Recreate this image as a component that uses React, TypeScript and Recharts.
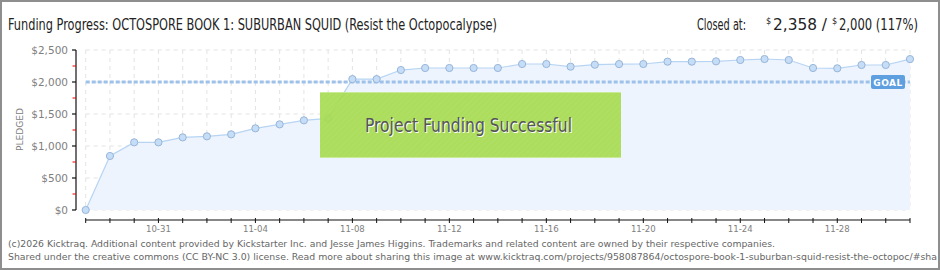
import React from 'react';
import { AreaChart, Area, XAxis, YAxis, CartesianGrid, ReferenceLine } from 'recharts';

const dates = [
  '10-28','10-29','10-30','10-31','11-01','11-02','11-03','11-04','11-05','11-06',
  '11-07','11-08','11-09','11-10','11-11','11-12','11-13','11-14','11-15','11-16',
  '11-17','11-18','11-19','11-20','11-21','11-22','11-23','11-24','11-25','11-26',
  '11-27','11-28','11-29','11-30','12-01',
];
const pledged = [
  0, 844, 1057, 1057, 1135, 1151, 1182, 1276, 1338, 1401,
  1432, 2045, 2045, 2187, 2219, 2219, 2219, 2219, 2281, 2281,
  2240, 2270, 2280, 2281, 2318, 2318, 2323, 2344, 2359, 2344,
  2219, 2214, 2266, 2266, 2358,
];
const tickLabels = ['10-31','11-04','11-08','11-12','11-16','11-20','11-24','11-28'];
const yTicks = [0, 500, 1000, 1500, 2000, 2500];
const goal = 2000;

const yLabel = (v: number) => '$' + v.toLocaleString('en-US');

const data = dates.map((d, i) => ({ i, date: d, pledged: pledged[i] }));
const xTicks = dates.map((_, i) => i);

const PLOT_LEFT = 85.7;
const PLOT_RIGHT = 910;
const PLOT_TOP = 50;
const PLOT_BOTTOM = 210;
const Y_AXIS_X = 76;
const X_AXIS_Y = 220;
const MINOR_STEP_PX = (PLOT_BOTTOM - PLOT_TOP) / 10;

const HEAD_FONT = "'DejaVu Sans Condensed', 'Liberation Sans Narrow', sans-serif";

const YTick = (props: any) => {
  const { y, payload } = props;
  const v = payload.value;
  return (
    <g>
      {v === 0 && (
        <line x1={Y_AXIS_X} x2={Y_AXIS_X} y1={PLOT_TOP} y2={PLOT_BOTTOM} stroke="#111" strokeWidth={1.2} />
      )}
      <line x1={Y_AXIS_X - 4} x2={Y_AXIS_X} y1={y} y2={y} stroke="#111" strokeWidth={1.2} />
      {v > 0 && (
        <line x1={Y_AXIS_X - 3.5} x2={Y_AXIS_X} y1={y + MINOR_STEP_PX} y2={y + MINOR_STEP_PX} stroke="#e00" strokeWidth={1} />
      )}
      <text x={68} y={y + 3.6} textAnchor="end" fontSize={10.5} fill="#808080" fontFamily="'DejaVu Sans', sans-serif">
        {yLabel(v)}
      </text>
    </g>
  );
};

const XTick = (props: any) => {
  const { x, payload } = props;
  const d = dates[payload.value];
  const show = tickLabels.includes(d);
  return (
    <g>
      {payload.value === 0 && (
        <line x1={PLOT_LEFT} x2={PLOT_RIGHT} y1={X_AXIS_Y} y2={X_AXIS_Y} stroke="#111" strokeWidth={1.2} />
      )}
      <line x1={x} x2={x} y1={X_AXIS_Y - 2} y2={X_AXIS_Y + 3} stroke="#111" strokeWidth={1} />
      {show && (
        <text x={x} y={X_AXIS_Y + 11.5} textAnchor="middle" fontSize={9.5} fill="#808080" fontFamily="'DejaVu Sans Condensed', 'DejaVu Sans', sans-serif">
          {d}
        </text>
      )}
    </g>
  );
};

const GoalLabel = (props: any) => {
  const vb = props.viewBox || {};
  const right = (vb.x || 0) + (vb.width || 0);
  const y = vb.y || 0;
  return (
    <g>
      <rect x={right - 39} y={y - 7} width={34} height={14} rx={2} fill="#5e9fe0" />
      <text x={right - 22} y={y + 3.6} textAnchor="middle" fontSize={9} fontWeight="bold" fill="#fff" fontFamily="'DejaVu Sans', sans-serif" letterSpacing={0.5}>
        GOAL
      </text>
    </g>
  );
};

export default function App() {
  return (
    <div style={{ position: 'absolute', left: 0, top: 0, width: 940, height: 270, background: '#fff', overflow: 'hidden' }}>
      <div style={{ position: 'absolute', left: 0, top: 0 }}>
        <AreaChart
          width={940}
          height={270}
          data={data}
          margin={{ top: PLOT_TOP, right: 940 - PLOT_RIGHT, bottom: 30, left: PLOT_LEFT - 80 }}
        >
          <CartesianGrid stroke="#e3e3e3" strokeDasharray="4 4" />
          <XAxis
            dataKey="i"
            type="number"
            domain={[0, dates.length - 1]}
            ticks={xTicks}
            interval={0}
            height={30}
            axisLine={false}
            tickLine={false}
            tick={<XTick />}
          />
          <YAxis
            type="number"
            domain={[0, 2500]}
            ticks={yTicks}
            interval={0}
            width={80}
            axisLine={false}
            tickLine={false}
            tick={<YTick />}
          />
          <Area
            type="linear"
            dataKey="pledged"
            stroke="#b7d4f3"
            strokeWidth={1.2}
            fill="#edf4fd"
            fillOpacity={1}
            isAnimationActive={false}
            dot={{ r: 3.6, fill: '#c5ddf6', stroke: '#98b5d8', strokeWidth: 1, fillOpacity: 1 }}
            activeDot={false}
          />
          <ReferenceLine
            y={goal}
            stroke="#9ec1ea"
            strokeWidth={3}
            strokeDasharray="4 2"
            label={<GoalLabel />}
          />
        </AreaChart>
      </div>
      <svg width={940} height={270} style={{ position: 'absolute', left: 0, top: 0, pointerEvents: 'none' }}>
        <defs>
          <pattern id="hatch" width="4" height="4" patternUnits="userSpaceOnUse" patternTransform="rotate(45)">
            <rect width="4" height="4" fill="#a7dc50" />
            <line x1="0" y1="0" x2="0" y2="4" stroke="#b2e066" strokeWidth="1" />
          </pattern>
        </defs>
        <text x={8} y={30} fontSize={15.5} fill="#222" fontFamily={HEAD_FONT} textLength={489} lengthAdjust="spacingAndGlyphs">
          Funding Progress: OCTOSPORE BOOK 1: SUBURBAN SQUID (Resist the Octopocalypse)
        </text>
        <text x={697} y={30} fontSize={15.5} fill="#222" fontFamily={HEAD_FONT} textLength={49} lengthAdjust="spacingAndGlyphs">
          Closed at:
        </text>
        <text x={766} y={24} fontSize={9} fill="#222" fontFamily={HEAD_FONT}>
          $
        </text>
        <text x={773} y={30} fontSize={15.5} fill="#222" fontFamily={HEAD_FONT} textLength={54} lengthAdjust="spacingAndGlyphs">
          2,358 /
        </text>
        <text x={832} y={24} fontSize={9} fill="#222" fontFamily={HEAD_FONT}>
          $
        </text>
        <text x={839} y={30} fontSize={15.5} fill="#222" fontFamily={HEAD_FONT} textLength={79} lengthAdjust="spacingAndGlyphs">
          2,000 (117%)
        </text>
        <text
          x={20}
          y={129.5}
          transform="rotate(-90 20 129.5)"
          textAnchor="middle"
          fontSize={8.5}
          fill="#808080"
          fontFamily="'DejaVu Sans', sans-serif"
          dy={3}
          textLength={43}
          lengthAdjust="spacingAndGlyphs"
        >
          PLEDGED
        </text>
        <g opacity={0.92}>
          <rect x={320} y={92} width={301} height={66} fill="url(#hatch)" />
          <line x1={320} x2={621} y1={92.5} y2={92.5} stroke="#c6ea8f" strokeWidth={1} />
          <line x1={320} x2={621} y1={157.5} y2={157.5} stroke="#c6ea8f" strokeWidth={1} />
        </g>
        <text x={366} y={133} fontSize={19} fill="#fff" fontFamily="'DejaVu Sans Condensed', sans-serif" textLength={207} lengthAdjust="spacingAndGlyphs">
          Project Funding Successful
        </text>
        <text x={365} y={132} fontSize={19} fill="#555" fontFamily="'DejaVu Sans Condensed', sans-serif" textLength={207} lengthAdjust="spacingAndGlyphs">
          Project Funding Successful
        </text>
        <text x={8} y={246.5} fontSize={9.5} fill="#666" fontFamily="'DejaVu Sans Condensed', 'DejaVu Sans', sans-serif" textLength={767} lengthAdjust="spacingAndGlyphs">
          (c)2026 Kicktraq. Additional content provided by Kickstarter Inc. and Jesse James Higgins. Trademarks and related content are owned by their respective companies.
        </text>
        <text x={8} y={259.5} fontSize={9.5} fill="#666" fontFamily="'DejaVu Sans Condensed', 'DejaVu Sans', sans-serif" textLength={929} lengthAdjust="spacingAndGlyphs">
          Shared under the creative commons (CC BY-NC 3.0) license. Read more about sharing this image at www.kicktraq.com/projects/958087864/octospore-book-1-suburban-squid-resist-the-octopoc/#sha
        </text>
        <rect x={1} y={1} width={938} height={268} fill="none" stroke="#8e8e8e" strokeWidth={2} />
      </svg>
    </div>
  );
}
